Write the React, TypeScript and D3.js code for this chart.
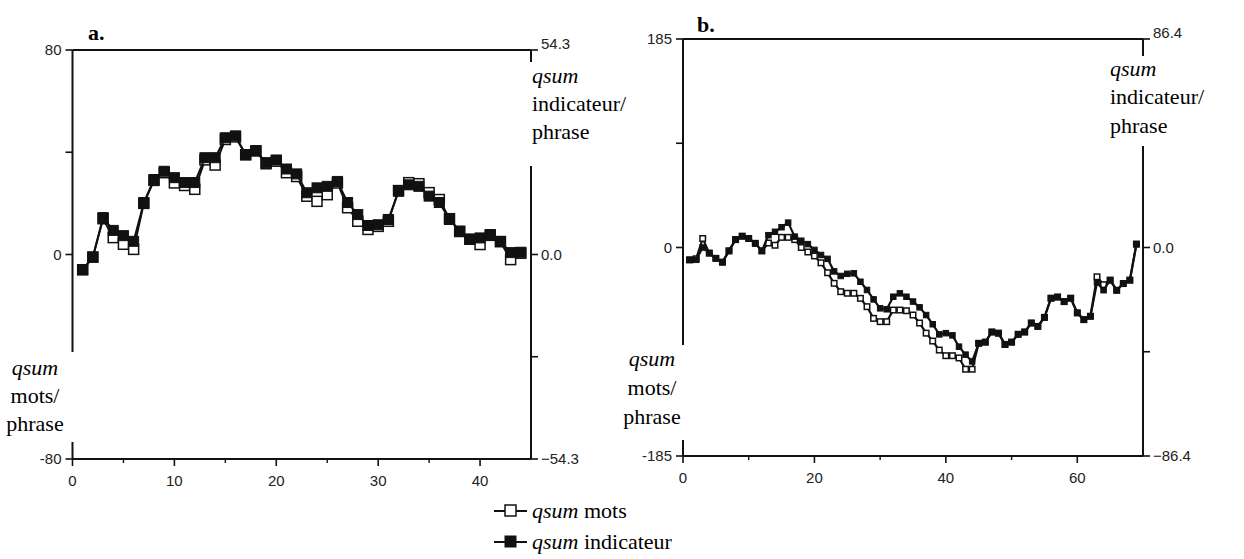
import React from 'react';
import * as d3 from 'd3';

// Panel a: qsum values, index 1..44
const aMots = [-6, -1, 14, 6.6, 4, 2, 20, 29, 32, 28, 27, 25.5, 37, 35, 45, 46, 39, 40.5, 35.5, 36.5, 32, 30.5, 22.8, 20.8, 23.4, 28, 18.3, 13, 9.8, 11, 13, 25, 28.1, 27.7, 24.2, 21.5, 14, 9, 6, 3.9, 7.5, 5, -2, 0.5];
// indicateur values on the right-axis scale (±54.3)
const aIndicateur = [-4.0, -0.7, 9.8, 6.4, 5.0, 3.5, 13.8, 19.9, 22.1, 20.4, 19.1, 19.1, 25.7, 25.7, 31.0, 31.5, 26.5, 27.6, 24.4, 25.1, 22.7, 21.4, 16.4, 17.7, 18.1, 19.4, 13.8, 10.6, 7.7, 7.9, 9.3, 16.8, 18.5, 18.1, 15.5, 13.8, 9.3, 6.2, 4.0, 4.4, 5.3, 3.5, 0.5, 0.6];

// Panel b: index 1..69
const bMots = [-11, -10, 8, -5, -9.6, -13, -3, 7, 10, 8, 3.7, -3, 4, 2, 9, 9, 7, 0, -4, -7.5, -13.6, -22.4, -31.8, -39.2, -40.6, -40.6, -45.1, -52.5, -62.9, -65.8, -65.8, -55.5, -55.5, -56.1, -59.9, -67, -76, -83, -91, -96, -96, -98, -108, -108, -85, -84, -75, -76, -86, -84, -77, -75, -67, -70, -62, -45, -44, -48, -45, -58, -64, -61, -26, -33, -29, -38, -32, -29, 3];
// indicateur on right-axis scale (±86.4)
const bIndicateur = [-5.1, -5.1, 0, -2.3, -4.5, -6.1, -1.4, 3.3, 4.7, 3.7, 1.7, -1.4, 5.1, 6.5, 8.4, 10.3, 4.5, 2.8, 1.4, -1.0, -3.1, -4.7, -9.9, -11.8, -10.9, -10.7, -14.2, -17.6, -21.5, -25.2, -25.6, -20.4, -19.0, -20.4, -22.4, -24.8, -28.0, -31.8, -36.0, -35.5, -36.4, -41.1, -44.4, -47.2, -39.7, -39.2, -35.0, -35.5, -40.2, -39.2, -36.0, -35.0, -31.3, -32.7, -29.0, -21.0, -20.5, -22.4, -21.0, -27.1, -29.9, -28.5, -14.5, -17.7, -13.5, -17.7, -14.9, -13.5, 1.4];

const aXTicks = [0, 10, 20, 30, 40];
const aXMinor = [5, 15, 25, 35];
const bXTicks = [0, 20, 40, 60];
const bXMinor = [10, 30, 50];

const serifStyle: React.CSSProperties = { fontFamily: "'Liberation Serif'" };
const sansStyle: React.CSSProperties = { fontFamily: "'Liberation Sans'" };

type PanelProps = {
  title: string;
  titleX: number;
  titleY: number;
  x0: number; x1: number; yTop: number; yBot: number;
  xMax: number;
  leftMax: number; leftLabels: string[];
  rightMax: number;
  xTicks: number[]; xMinor: number[];
  mots: number[]; indic: number[];
  markerSize: number; lineW: number;
  leftGap: [number, number]; rightGap: [number, number];
  leftLabelX: number; leftLabelYs: number[];
  rightLabelX: number; rightLabelYs: number[];
};

function Panel(p: PanelProps) {
  const x = d3.scaleLinear().domain([0, p.xMax]).range([p.x0, p.x1]);
  const yL = d3.scaleLinear().domain([-p.leftMax, p.leftMax]).range([p.yBot, p.yTop]);
  const yR = d3.scaleLinear().domain([-p.rightMax, p.rightMax]).range([p.yBot, p.yTop]);
  const lineL = d3.line<number>().x((_, i) => x(i + 1)).y(d => yL(d));
  const lineR = d3.line<number>().x((_, i) => x(i + 1)).y(d => yR(d));
  const s = p.markerSize;
  const fmt = d3.format('.1f');
  const leftTicks = [p.leftMax, p.leftMax / 2, 0, -p.leftMax / 2, -p.leftMax];
  const rightTicks = [p.rightMax, p.rightMax / 2, 0, -p.rightMax / 2, -p.rightMax];
  const inGap = (y: number, g: [number, number]) => y > g[0] && y < g[1];
  const stroke = '#111';
  return (
    <g>
      <text x={p.titleX} y={p.titleY} style={serifStyle} fontWeight="bold" fontSize={22} fill="#000">{p.title}</text>
      {/* frame */}
      <line x1={p.x0} x2={p.x1} y1={p.yTop} y2={p.yTop} stroke={stroke} strokeWidth={2} />
      <line x1={p.x0} x2={p.x1} y1={p.yBot} y2={p.yBot} stroke={stroke} strokeWidth={2} />
      <line x1={p.x0} x2={p.x0} y1={p.yTop} y2={p.leftGap[0]} stroke={stroke} strokeWidth={2} />
      <line x1={p.x0} x2={p.x0} y1={p.leftGap[1]} y2={p.yBot} stroke={stroke} strokeWidth={2} />
      <line x1={p.x1} x2={p.x1} y1={p.yTop} y2={p.rightGap[0]} stroke={stroke} strokeWidth={2} />
      <line x1={p.x1} x2={p.x1} y1={p.rightGap[1]} y2={p.yBot} stroke={stroke} strokeWidth={2} />
      {/* left ticks */}
      {leftTicks.filter(t => !inGap(yL(t), p.leftGap)).map((t, i) => (
        <line key={'lt' + i} x1={p.x0 - 7} x2={p.x0} y1={yL(t)} y2={yL(t)} stroke={stroke} strokeWidth={1.6} />
      ))}
      {[p.leftMax, 0, -p.leftMax].map((t, i) => (
        <text key={'ll' + i} x={p.x0 - 11} y={yL(t) + 5} textAnchor="end" style={sansStyle} fontSize={15} fill="#222">{p.leftLabels[i]}</text>
      ))}
      {/* right ticks */}
      {rightTicks.filter(t => !inGap(yR(t), p.rightGap)).map((t, i) => (
        <line key={'rt' + i} x1={p.x1} x2={p.x1 + 7} y1={yR(t)} y2={yR(t)} stroke={stroke} strokeWidth={1.6} />
      ))}
      {[p.rightMax, 0, -p.rightMax].map((t, i) => (
        <text key={'rl' + i} x={p.x1 + 10} y={yR(t) + (i === 0 ? -1 : 5)} style={sansStyle} fontSize={15} fill="#222">{fmt(t)}</text>
      ))}
      {/* x ticks */}
      {p.xTicks.map(t => (
        <g key={'xt' + t}>
          <line x1={x(t)} x2={x(t)} y1={p.yBot} y2={p.yBot + 7} stroke={stroke} strokeWidth={1.6} />
          <text x={x(t)} y={p.yBot + 27} textAnchor="middle" style={sansStyle} fontSize={15} fill="#222">{t}</text>
        </g>
      ))}
      {p.xMinor.map(t => (
        <line key={'xm' + t} x1={x(t)} x2={x(t)} y1={p.yBot} y2={p.yBot + 4} stroke={stroke} strokeWidth={1.4} />
      ))}
      {/* axis labels */}
      <text style={serifStyle} fontSize={22} fill="#000" textAnchor="middle">
        <tspan x={p.leftLabelX} y={p.leftLabelYs[0]} fontStyle="italic">qsum</tspan>
        <tspan x={p.leftLabelX} y={p.leftLabelYs[1]}>mots/</tspan>
        <tspan x={p.leftLabelX} y={p.leftLabelYs[2]}>phrase</tspan>
      </text>
      <text style={serifStyle} fontSize={22} fill="#000">
        <tspan x={p.rightLabelX} y={p.rightLabelYs[0]} fontStyle="italic">qsum</tspan>
        <tspan x={p.rightLabelX} y={p.rightLabelYs[1]}>indicateur/</tspan>
        <tspan x={p.rightLabelX} y={p.rightLabelYs[2]}>phrase</tspan>
      </text>
      {/* series: mots (open) */}
      <path d={lineL(p.mots) || ''} fill="none" stroke={stroke} strokeWidth={p.lineW} strokeLinejoin="round" />
      {p.mots.map((d, i) => (
        <rect key={'mo' + i} x={x(i + 1) - s / 2} y={yL(d) - s / 2} width={s} height={s} fill="#fff" stroke={stroke} strokeWidth={1.5} />
      ))}
      {/* series: indicateur (filled) */}
      <path d={lineR(p.indic) || ''} fill="none" stroke={stroke} strokeWidth={p.lineW} strokeLinejoin="round" />
      {p.indic.map((d, i) => (
        <rect key={'in' + i} x={x(i + 1) - s / 2} y={yR(d) - s / 2} width={s} height={s} fill={stroke} stroke={stroke} strokeWidth={1} />
      ))}
    </g>
  );
}

export default function App() {
  return (
    <svg width={1244} height={559} style={{ position: 'absolute', left: 0, top: 0, background: '#fff' }}>
      <Panel title="a." titleX={88} titleY={40}
        x0={72.5} x1={531} yTop={50} yBot={459} xMax={45}
        leftMax={80} leftLabels={['80', '0', '-80']} rightMax={54.3}
        xTicks={aXTicks} xMinor={aXMinor}
        mots={aMots} indic={aIndicateur} markerSize={10} lineW={2}
        leftGap={[352, 442]} rightGap={[62, 166]}
        leftLabelX={35} leftLabelYs={[375, 403, 431]}
        rightLabelX={532} rightLabelYs={[83, 111, 139]} />
      <Panel title="b." titleX={697} titleY={32}
        x0={683} x1={1143} yTop={39} yBot={456} xMax={70}
        leftMax={185} leftLabels={['185', '0', '-185']} rightMax={86.4}
        xTicks={bXTicks} xMinor={bXMinor}
        mots={bMots} indic={bIndicateur} markerSize={5.5} lineW={2.2}
        leftGap={[345, 440]} rightGap={[56, 146]}
        leftLabelX={652} leftLabelYs={[366, 395, 424]}
        rightLabelX={1110} rightLabelYs={[76, 104, 133]} />
      {/* legend */}
      <g>
        <line x1={494} x2={527} y1={511} y2={511} stroke="#111" strokeWidth={2} />
        <rect x={505} y={505} width={11} height={11} fill="#fff" stroke="#111" strokeWidth={1.5} />
        <text x={532} y={518} style={serifStyle} fontSize={22} fill="#000">
          <tspan fontStyle="italic">qsum</tspan><tspan> mots</tspan>
        </text>
        <line x1={494} x2={527} y1={542} y2={542} stroke="#111" strokeWidth={2} />
        <rect x={505} y={536} width={11} height={11} fill="#111" stroke="#111" strokeWidth={1} />
        <text x={532} y={549} style={serifStyle} fontSize={22} fill="#000">
          <tspan fontStyle="italic">qsum</tspan><tspan> indicateur</tspan>
        </text>
      </g>
    </svg>
  );
}
